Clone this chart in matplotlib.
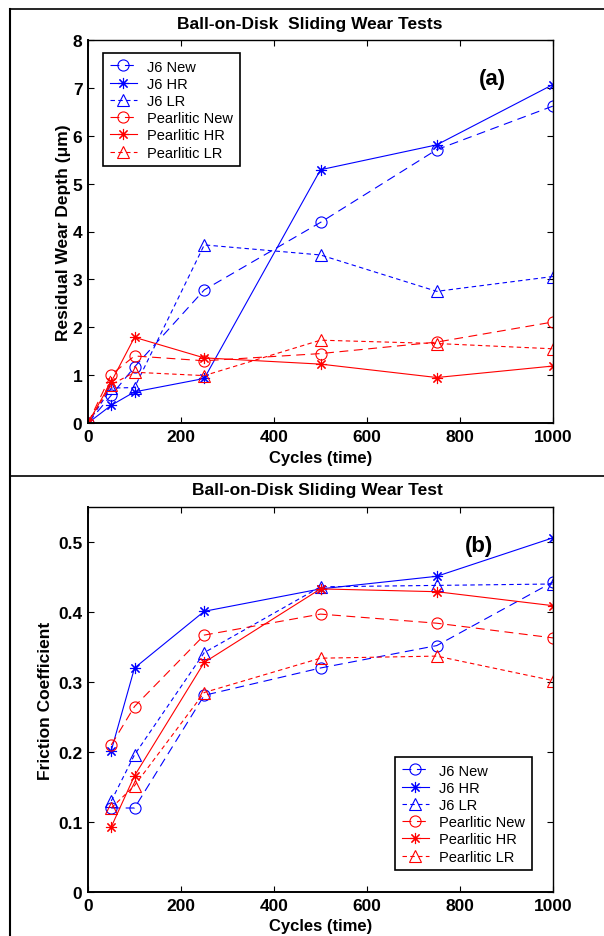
import numpy as np
import matplotlib
matplotlib.use('Agg')
import matplotlib.pyplot as plt
from matplotlib.lines import Line2D

plt.rcParams['font.family'] = ['Liberation Sans', 'DejaVu Sans']

# ---- data ----
cycles_a = [0, 50, 100, 250, 500, 750, 1000]
j6_new_a = [0, 0.58, 1.17, 2.78, 4.19, 5.71, 6.62]
j6_hr_a = [0, 0.37, 0.65, 0.93, 5.29, 5.81, 7.07]
j6_lr_a = [0, 0.73, 0.74, 3.72, 3.51, 2.75, 3.06]
pe_new_a = [0, 1.01, 1.40, 1.30, 1.45, 1.69, 2.11]
pe_hr_a = [0, 0.86, 1.79, 1.36, 1.23, 0.95, 1.19]
pe_lr_a = [0, 0.80, 1.06, 0.99, 1.73, 1.66, 1.55]

cycles_b = [50, 100, 250, 500, 750, 1000]
j6_new_b = [0.120, 0.120, 0.281, 0.320, 0.352, 0.443]
j6_hr_b = [0.202, 0.320, 0.401, 0.433, 0.451, 0.506]
j6_lr_b = [0.130, 0.196, 0.342, 0.436, 0.438, 0.440]
pe_new_b = [0.210, 0.265, 0.367, 0.397, 0.384, 0.363]
pe_hr_b = [0.093, 0.166, 0.328, 0.433, 0.429, 0.409]
pe_lr_b = [0.120, 0.152, 0.285, 0.334, 0.337, 0.302]

labels = ['J6 New', 'J6 HR', 'J6 LR', 'Pearlitic New', 'Pearlitic HR', 'Pearlitic LR']

BLUE = '#0000ff'
RED = '#ff0000'
star = (8, 2, 0)
styles = [
    (BLUE, 'o', (0, (8, 5))),
    (BLUE, star, '-'),
    (BLUE, '^', (0, (4, 3))),
    (RED, 'o', (0, (8, 5))),
    (RED, star, '-'),
    (RED, '^', (0, (4, 3))),
]

W, H = 604, 937
fig = plt.figure(figsize=(W / 100, H / 100), dpi=100)


def fx(px):
    return px / W


def fy(py):
    return 1 - py / H


# outer frame lines of the two panels
fig.add_artist(Line2D([fx(10), 1], [fy(10), fy(10)], color='black', lw=1.2))
fig.add_artist(Line2D([fx(10), 1], [fy(477), fy(477)], color='black', lw=1.2))
fig.add_artist(Line2D([fx(10), fx(10)], [fy(10), 0], color='black', lw=1.5))


def panel(ax, x, series, ylim, yticks, ylabel, ylab_x, xlab_y, tag, tag_xy, leg_xy):
    for ys, lab, (c, m, ls) in zip(series, labels, styles):
        ax.plot(x, ys, color=c, marker=m, linestyle=ls, lw=0.8,
                markersize=8, mfc='none', mec=c, mew=0.8, label=lab)
    ax.set_xlim(0, 1000)
    ax.set_ylim(*ylim)
    ax.set_xticks([0, 200, 400, 600, 800, 1000])
    ax.set_yticks(yticks)
    ax.tick_params(direction='in', length=4, width=0.8, top=True, right=True,
                   labelsize=12.5, pad=4)
    for s in ['left', 'bottom']:
        ax.spines[s].set_linewidth(1.4)
    for s in ['top', 'right']:
        ax.spines[s].set_linewidth(1.0)
    ax.set_xlabel('Cycles (time)', fontsize=12, fontweight='bold')
    ax.xaxis.set_label_coords(0.5, xlab_y)
    ax.set_ylabel(ylabel, fontsize=12.5, fontweight='bold')
    ax.yaxis.set_label_coords(ylab_x, 0.5)
    ax.text(tag_xy[0], tag_xy[1], tag, transform=ax.transAxes, fontsize=16,
            fontweight='bold', ha='center', va='center')
    leg = ax.legend(loc='upper left', bbox_to_anchor=leg_xy,
                    bbox_transform=fig.transFigure, borderaxespad=0,
                    fontsize=10.5, handlelength=1.9, frameon=True, fancybox=False,
                    edgecolor='black', framealpha=1, borderpad=0.45,
                    labelspacing=0.22, handletextpad=0.7)
    leg.get_frame().set_linewidth(1.2)


ax1 = fig.add_axes([fx(88), fy(424), fx(553) - fx(88), fy(41) - fy(424)])
panel(ax1, cycles_a, [j6_new_a, j6_hr_a, j6_lr_a, pe_new_a, pe_hr_a, pe_lr_a],
      (0, 8), range(0, 9), 'Residual Wear Depth (\u03bcm)', -0.037, -0.071,
      '(a)', (0.87, 0.9), (fx(103), fy(54)))
fig.text(fx(310), fy(25), 'Ball-on-Disk  Sliding Wear Tests', fontsize=12.5,
         fontweight='bold', ha='center', va='center')

ax2 = fig.add_axes([fx(88), fy(893), fx(553) - fx(88), fy(508) - fy(893)])
panel(ax2, cycles_b, [j6_new_b, j6_hr_b, j6_lr_b, pe_new_b, pe_hr_b, pe_lr_b],
      (0, 0.55), [0, 0.1, 0.2, 0.3, 0.4, 0.5], 'Friction Coefficient', -0.076, -0.068,
      '(b)', (0.84, 0.9), (fx(395), fy(758)))
ax2.set_yticklabels(['0', '0.1', '0.2', '0.3', '0.4', '0.5'])
for ax in (ax1, ax2):
    for t in ax.get_xticklabels() + ax.get_yticklabels():
        t.set_fontweight('bold')
fig.text(fx(317), fy(491), 'Ball-on-Disk Sliding Wear Test', fontsize=12.5,
         fontweight='bold', ha='center', va='center')

fig.savefig('out.png', dpi=100)
